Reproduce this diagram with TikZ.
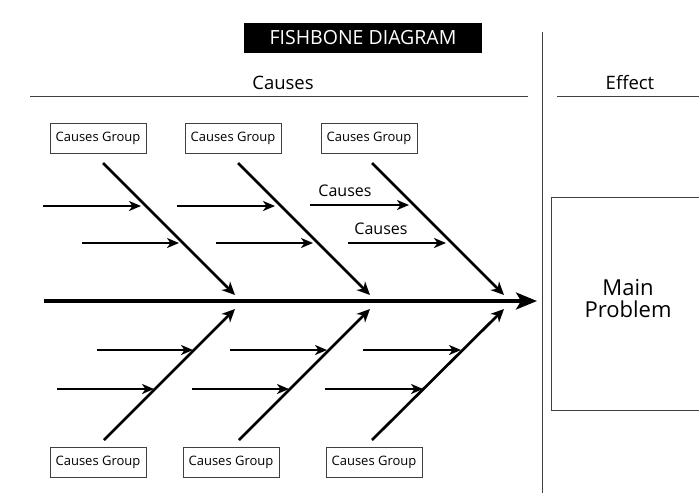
\documentclass[tikz,border=0pt]{standalone}
\usepackage{fontspec}
\setmainfont{Open Sans}
\usetikzlibrary{arrows.meta}
\begin{document}
\begin{tikzpicture}[x=1pt,y=-1pt,
  grp/.style={draw=black!75, line width=0.9pt, minimum width=96pt, minimum height=30pt, inner sep=0pt, font=\fontsize{13}{15}\selectfont},
  bone/.style={line width=2.7pt, -{Stealth[length=13pt,width=12pt,inset=4pt]}},
  subarrow/.style={line width=2.1pt, -{Stealth[length=12pt,width=10pt,inset=3.5pt]}},
  spine/.style={line width=3.2pt, -{Stealth[length=21pt,width=17pt,inset=5pt]}},
  rule/.style={draw=black!75, line width=0.9pt},
  lbl/.style={font=\fontsize{16}{18}\selectfont, inner sep=0pt}]
\useasboundingbox (0,0) rectangle (699,493);
\fill[white] (0,0) rectangle (699,493);

% title and headers
\node[fill=black, text=white, minimum width=238pt, minimum height=30pt, inner sep=0pt, font=\fontsize{19.5}{21}\selectfont] (title) at (363,38) {FISHBONE DIAGRAM};
\node[font=\fontsize{18.5}{20}\selectfont, inner sep=0pt] (causeshead) at (283,83) {Causes};
\node[font=\fontsize{18.5}{20}\selectfont, inner sep=0pt] (effecthead) at (630,83) {Effect};
\coordinate (cl1) at (30,96); \coordinate (cl2) at (528,96);
\coordinate (el1) at (557,96); \coordinate (el2) at (699,96);
\coordinate (v1) at (542,32); \coordinate (v2) at (542,493);
\draw[rule] (cl1) -- (cl2);
\draw[rule] (el1) -- (el2);
\draw[rule] (v1) -- (v2);

% effect box
\node[draw=black!75, line width=0.9pt, minimum width=154pt, minimum height=213pt, inner sep=0pt] (main) at (628,303.5) {};
\node[align=center, inner sep=0pt, font=\fontsize{22}{22}\selectfont] (maintext) at (628,299) {Main\\Problem};

% cause group boxes
\node[grp] (g1) at (98,138) {Causes Group};
\node[grp] (g2) at (233,138) {Causes Group};
\node[grp] (g3) at (369,138) {Causes Group};
\node[grp] (g4) at (98,462) {Causes Group};
\node[grp] (g5) at (231,462) {Causes Group};
\node[grp] (g6) at (374,462) {Causes Group};

% spine
\coordinate (s0) at (44,301);
\coordinate (s1) at (537,301);
\draw[spine] (s0) -- (s1);

% top bones
\coordinate (t1a) at (103,163); \coordinate (t1b) at (235,295);
\coordinate (t2a) at (238,163); \coordinate (t2b) at (370,295);
\coordinate (t3a) at (372,163); \coordinate (t3b) at (504,295);
\draw[bone] (t1a) -- (t1b);
\draw[bone] (t2a) -- (t2b);
\draw[bone] (t3a) -- (t3b);

% bottom bones
\coordinate (b1a) at (104,440); \coordinate (b1b) at (235,309);
\coordinate (b2a) at (239,440); \coordinate (b2b) at (370,309);
\coordinate (b3a) at (372,440); \coordinate (b3b) at (504,309);
\draw[bone] (b1a) -- (b1b);
\draw[bone] (b2a) -- (b2b);
\draw[bone] (b3a) -- (b3b);

% top sub-causes
\coordinate (a1s) at (43,206);  \coordinate (a1e) at (141,206);
\coordinate (a2s) at (82,243);  \coordinate (a2e) at (179,243);
\coordinate (a3s) at (177,206); \coordinate (a3e) at (275,206);
\coordinate (a4s) at (216,243); \coordinate (a4e) at (313,243);
\coordinate (a5s) at (310,205); \coordinate (a5e) at (409,205);
\coordinate (a6s) at (348,243); \coordinate (a6e) at (446,243);
\foreach \i in {1,...,6} \draw[subarrow] (a\i s) -- (a\i e);
\node[lbl] (c1) at (345,191) {Causes};
\node[lbl] (c2) at (381,229) {Causes};

% bottom sub-causes
\coordinate (d1s) at (97,350);  \coordinate (d1e) at (193,350);
\coordinate (d2s) at (57,389);  \coordinate (d2e) at (154,389);
\coordinate (d3s) at (230,350); \coordinate (d3e) at (327,350);
\coordinate (d4s) at (192,389); \coordinate (d4e) at (289,389);
\coordinate (d5s) at (363,350); \coordinate (d5e) at (461,350);
\coordinate (d6s) at (325,389); \coordinate (d6e) at (423,389);
\foreach \i in {1,...,6} \draw[subarrow] (d\i s) -- (d\i e);
\end{tikzpicture}
\end{document}
